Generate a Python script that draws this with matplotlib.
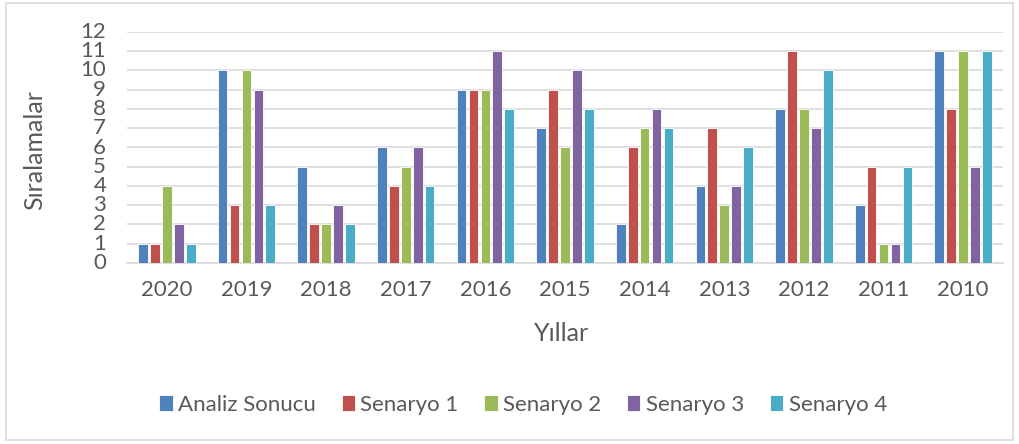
import numpy as np
import matplotlib.pyplot as plt
from matplotlib.patches import Rectangle

years = ["2020", "2019", "2018", "2017", "2016", "2015", "2014", "2013", "2012", "2011", "2010"]
series_names = ["Analiz Sonucu", "Senaryo 1", "Senaryo 2", "Senaryo 3", "Senaryo 4"]
analiz = [1, 10, 5, 6, 9, 7, 2, 4, 8, 3, 11]
senaryo1 = [1, 3, 2, 4, 9, 9, 6, 7, 11, 5, 8]
senaryo2 = [4, 10, 2, 5, 9, 6, 7, 3, 8, 1, 11]
senaryo3 = [2, 9, 3, 6, 11, 10, 8, 4, 7, 1, 5]
senaryo4 = [1, 3, 2, 4, 8, 8, 7, 6, 10, 5, 11]
colors = ["#4F81BD", "#C0504D", "#9BBB59", "#8064A2", "#4BACC6"]

plt.rcParams["font.family"] = ["Lato", "DejaVu Sans"]
txt = "#595959"

fig = plt.figure(figsize=(10.19, 4.44), dpi=100)
ax = fig.add_axes([127 / 1019, 1 - 263 / 444, 876 / 1019, 231 / 444])

x = np.arange(len(years))
pitch = 0.15
for i, (name, vals) in enumerate(zip(series_names, [analiz, senaryo1, senaryo2, senaryo3, senaryo4])):
    ax.bar(x + (i - 2) * pitch, vals, width=0.122, color=colors[i], label=name,
           zorder=3, edgecolor="white", linewidth=0.6)

ax.set_xlim(-0.5, len(years) - 0.5)
ax.set_ylim(0, 12)
ax.set_yticks(range(0, 13))
ax.set_xticks(x)
ax.set_xticklabels(years)
ax.grid(axis="y", color="#D9D9D9", linewidth=1.2, zorder=0)
for s in ["top", "right", "left"]:
    ax.spines[s].set_visible(False)
ax.spines["bottom"].set_color("#D9D9D9")
ax.spines["bottom"].set_linewidth(1.2)
ax.tick_params(length=0, labelsize=16, colors=txt)
ax.tick_params(axis="x", pad=12)
ax.tick_params(axis="y", pad=15)
for lbl in ax.get_yticklabels():
    lbl.set_verticalalignment("center")

fig.text(35 / 1019, 1 - 150 / 444, "Sıralamalar", rotation=90, ha="center", va="center",
         fontsize=18, color=txt)
fig.text(561 / 1019, 1 - 333 / 444, "Yıllar", ha="center", va="center", fontsize=18, color=txt)

fig.legend(loc="center", bbox_to_anchor=(523 / 1019, 1 - 405 / 444), ncol=5, frameon=False,
           fontsize=16, labelcolor=txt, handlelength=0.6, handleheight=0.7,
           handletextpad=0.25, columnspacing=1.15)

fig.patches.append(Rectangle((6 / 1019, 1 - 440 / 444), 1007 / 1019, 437 / 444,
                             transform=fig.transFigure, fill=False, edgecolor="#D9D9D9",
                             linewidth=1.2))

fig.savefig("out.png", dpi=100)
